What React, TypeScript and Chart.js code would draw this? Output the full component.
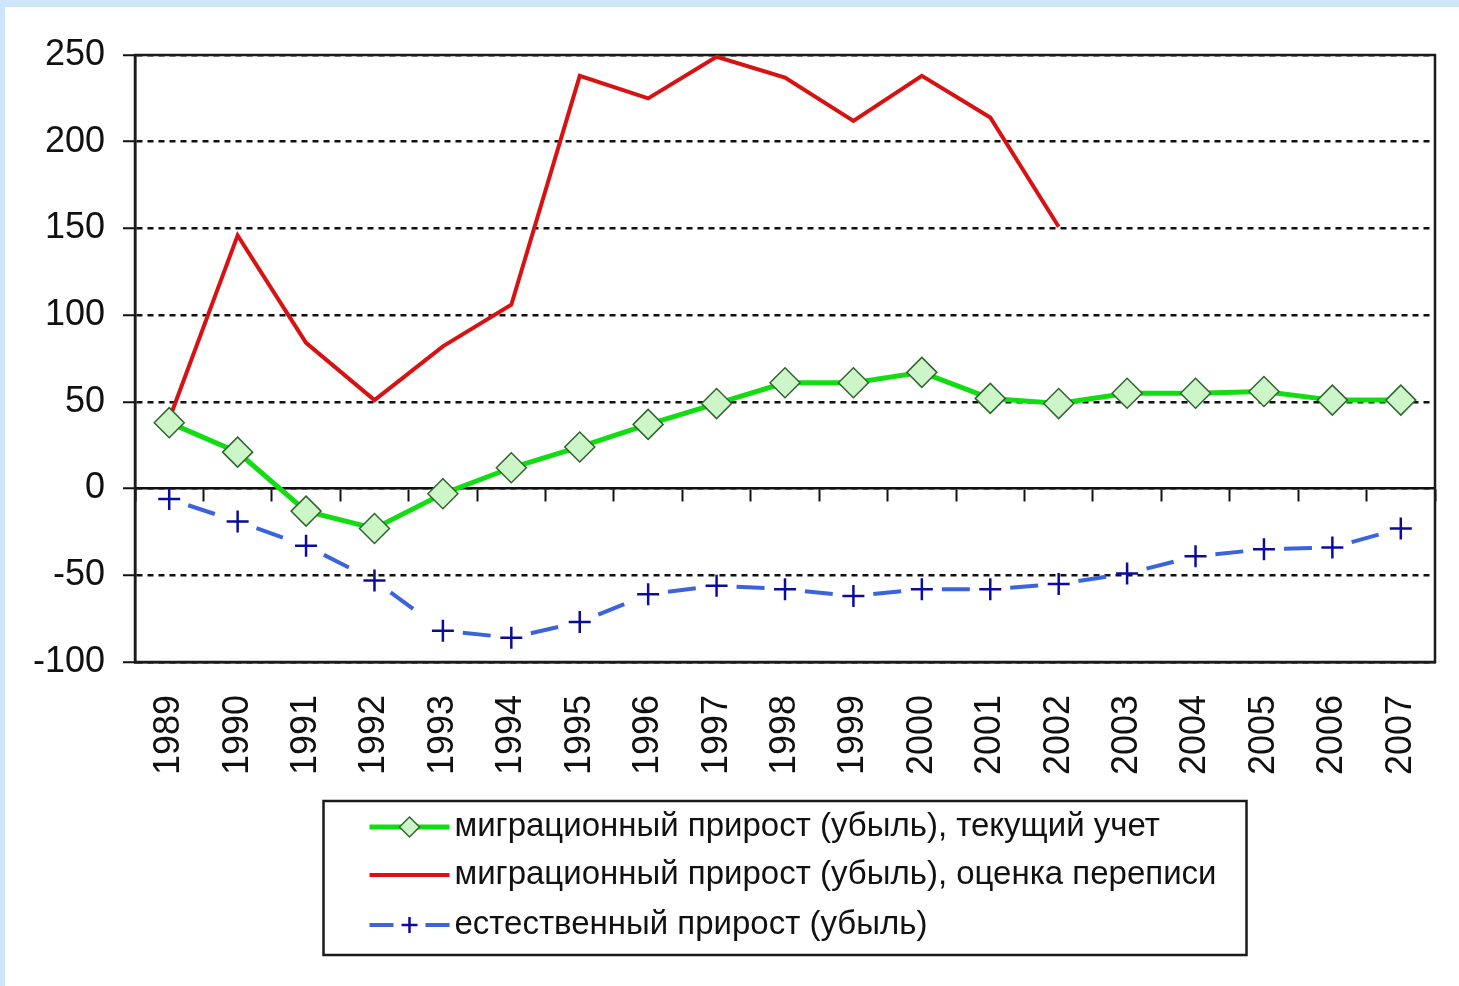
import React, { useEffect, useRef } from 'react';
import { Chart, registerables } from 'chart.js';

Chart.register(...registerables);

const years = ['1989', '1990', '1991', '1992', '1993', '1994', '1995', '1996', '1997', '1998', '1999', '2000', '2001', '2002', '2003', '2004', '2005', '2006', '2007'];
const migrationCurrent = [38, 21, -13, -23, -3, 12, 24, 37, 49, 61, 61, 67, 52, 49, 55, 55, 56, 51, 51];
const migrationCensus = [40, 146, 84, 51, 82, 106, 238, 225, 249, 237, 212, 238, 214, 151, null, null, null, null, null];
const naturalGrowth = [-6, -19, -33, -53, -82, -86, -77, -61, -56, -58, -62, -58, -58, -55, -49, -39, -35, -34, -23];
const seriesLabels = [
  'миграционный прирост (убыль), текущий учет',
  'миграционный прирост (убыль), оценка переписи',
  'естественный прирост (убыль)',
];
const yMin = -100;
const yMax = 250;
const yStep = 50;

const FONT = 'Liberation Sans, Arial, sans-serif';
const INK = '#111111';
const GREEN = '#12dd12';
const DIAMOND_FILL = '#ccf5c8';
const DIAMOND_EDGE = '#2e662e';
const RED = '#d81212';
const BLUE = '#3b63dc';
const NAVY = '#0c0c9c';

const framePlugin = {
  id: 'frame',
  beforeDatasetsDraw(chart: any) {
    const { ctx, chartArea: a } = chart;
    ctx.save();
    ctx.strokeStyle = '#1a1a1a';
    ctx.lineWidth = 2.5;
    ctx.setLineDash([]);
    ctx.strokeRect(a.left, a.top, a.right - a.left, a.bottom - a.top);
    ctx.restore();
  },
};

const legendPlugin = {
  id: 'boxLegend',
  afterDraw(chart: any) {
    const { ctx, chartArea: a } = chart;
    const boxW = 923;
    const boxH = 154;
    const cx = (a.left + a.right) / 2;
    const left = cx - boxW / 2;
    const top = a.bottom + 139;
    ctx.save();
    ctx.strokeStyle = '#1a1a1a';
    ctx.lineWidth = 2.5;
    ctx.setLineDash([]);
    ctx.strokeRect(left, top, boxW, boxH);
    const rows = [26, 74, 124];
    const x0 = left + 46;
    const x1 = left + 126;
    const xm = (x0 + x1) / 2;
    chart.data.datasets.forEach((ds: any, i: number) => {
      const y = top + rows[i];
      ctx.save();
      ctx.strokeStyle = ds.borderColor;
      ctx.lineWidth = ds.borderWidth;
      if (i === 2) {
        ctx.beginPath();
        ctx.moveTo(x0, y);
        ctx.lineTo(x0 + 24, y);
        ctx.moveTo(x1 - 24, y);
        ctx.lineTo(x1, y);
        ctx.stroke();
        ctx.strokeStyle = NAVY;
        ctx.lineWidth = 2.5;
        ctx.beginPath();
        ctx.moveTo(xm - 8, y);
        ctx.lineTo(xm + 8, y);
        ctx.moveTo(xm, y - 8);
        ctx.lineTo(xm, y + 8);
        ctx.stroke();
      } else {
        ctx.beginPath();
        ctx.moveTo(x0, y);
        ctx.lineTo(x1, y);
        ctx.stroke();
        if (i === 0) {
          const r = 10;
          ctx.beginPath();
          ctx.moveTo(xm - r, y);
          ctx.lineTo(xm, y - r);
          ctx.lineTo(xm + r, y);
          ctx.lineTo(xm, y + r);
          ctx.closePath();
          ctx.fillStyle = DIAMOND_FILL;
          ctx.fill();
          ctx.strokeStyle = DIAMOND_EDGE;
          ctx.lineWidth = 1.5;
          ctx.stroke();
        }
      }
      ctx.restore();
      ctx.fillStyle = INK;
      ctx.font = `33px ${FONT}`;
      ctx.textBaseline = 'middle';
      ctx.textAlign = 'left';
      ctx.fillText(ds.label, left + 131, y);
    });
    ctx.restore();
  },
};

const noSidePadding = (s: any) => {
  s.paddingLeft = 0;
  s.paddingRight = 0;
};

export default function App() {
  const canvasRef = useRef<HTMLCanvasElement | null>(null);

  useEffect(() => {
    const canvas = canvasRef.current;
    if (!canvas) return;
    const chart = new Chart(canvas, {
      type: 'line',
      data: {
        labels: years,
        datasets: [
          {
            label: seriesLabels[0],
            data: migrationCurrent,
            borderColor: GREEN,
            borderWidth: 5,
            pointStyle: 'rectRot',
            pointRadius: 15,
            pointBackgroundColor: DIAMOND_FILL,
            pointBorderColor: DIAMOND_EDGE,
            pointBorderWidth: 1.5,
            order: 0,
          },
          {
            label: seriesLabels[1],
            data: migrationCensus,
            borderColor: RED,
            borderWidth: 4,
            pointRadius: 0,
            spanGaps: false,
            order: 1,
          },
          {
            label: seriesLabels[2],
            data: naturalGrowth,
            borderColor: BLUE,
            borderWidth: 4,
            pointStyle: 'cross',
            pointRadius: 11,
            pointBorderColor: NAVY,
            pointBorderWidth: 2.5,
            segment: {
              borderDash: () => [28, 40],
              borderDashOffset: (c: any) => -20 - c.p0DataIndex * 0.0001,
            },
            order: 2,
          },
        ],
      } as any,
      options: {
        responsive: false,
        animation: false,
        events: [],
        layout: { padding: { left: 0, right: 24, top: 48, bottom: 194 } },
        plugins: {
          legend: { display: false },
          tooltip: { enabled: false },
        },
        scales: {
          x: {
            type: 'category',
            position: 'bottom',
            offset: true,
            grid: { display: false, drawTicks: false },
            border: { display: true, color: INK, width: 2.5 },
            ticks: {
              autoSkip: false,
              minRotation: 90,
              maxRotation: 90,
              padding: 33,
              color: INK,
              font: { family: FONT, size: 36 },
            },
            afterFit: (s: any) => {
              s.height = 130;
              noSidePadding(s);
            },
          },
          x0: {
            type: 'category',
            axis: 'x',
            position: { y: 0 },
            offset: true,
            grid: {
              display: true,
              offset: true,
              drawOnChartArea: false,
              drawTicks: true,
              tickLength: 12,
              tickWidth: 2,
              tickColor: INK,
            },
            border: { display: true, color: INK, width: 2.5 },
            ticks: { display: false },
            afterFit: noSidePadding,
          },
          y: {
            min: yMin,
            max: yMax,
            ticks: {
              stepSize: yStep,
              padding: 18,
              color: INK,
              font: { family: FONT, size: 36 },
            },
            grid: {
              color: INK,
              lineWidth: 2.5,
              tickLength: 12,
              tickWidth: 2,
              tickColor: INK,
              tickBorderDash: [],
            },
            border: { display: true, color: INK, width: 2.5, dash: [6, 5] },
            afterFit: (s: any) => {
              s.width = 130;
            },
          },
        },
      } as any,
      plugins: [framePlugin, legendPlugin],
    });
    return () => chart.destroy();
  }, []);

  return (
    <div style={{ position: 'fixed', left: 0, top: 0, width: 1459, height: 986, background: '#cfe5f9', overflow: 'hidden' }}>
      <div style={{ position: 'absolute', left: 5, top: 7, width: 1454, height: 979, background: '#ffffff' }}>
        <canvas ref={canvasRef} width={1454} height={979} style={{ display: 'block', width: 1454, height: 979 }} />
      </div>
    </div>
  );
}
